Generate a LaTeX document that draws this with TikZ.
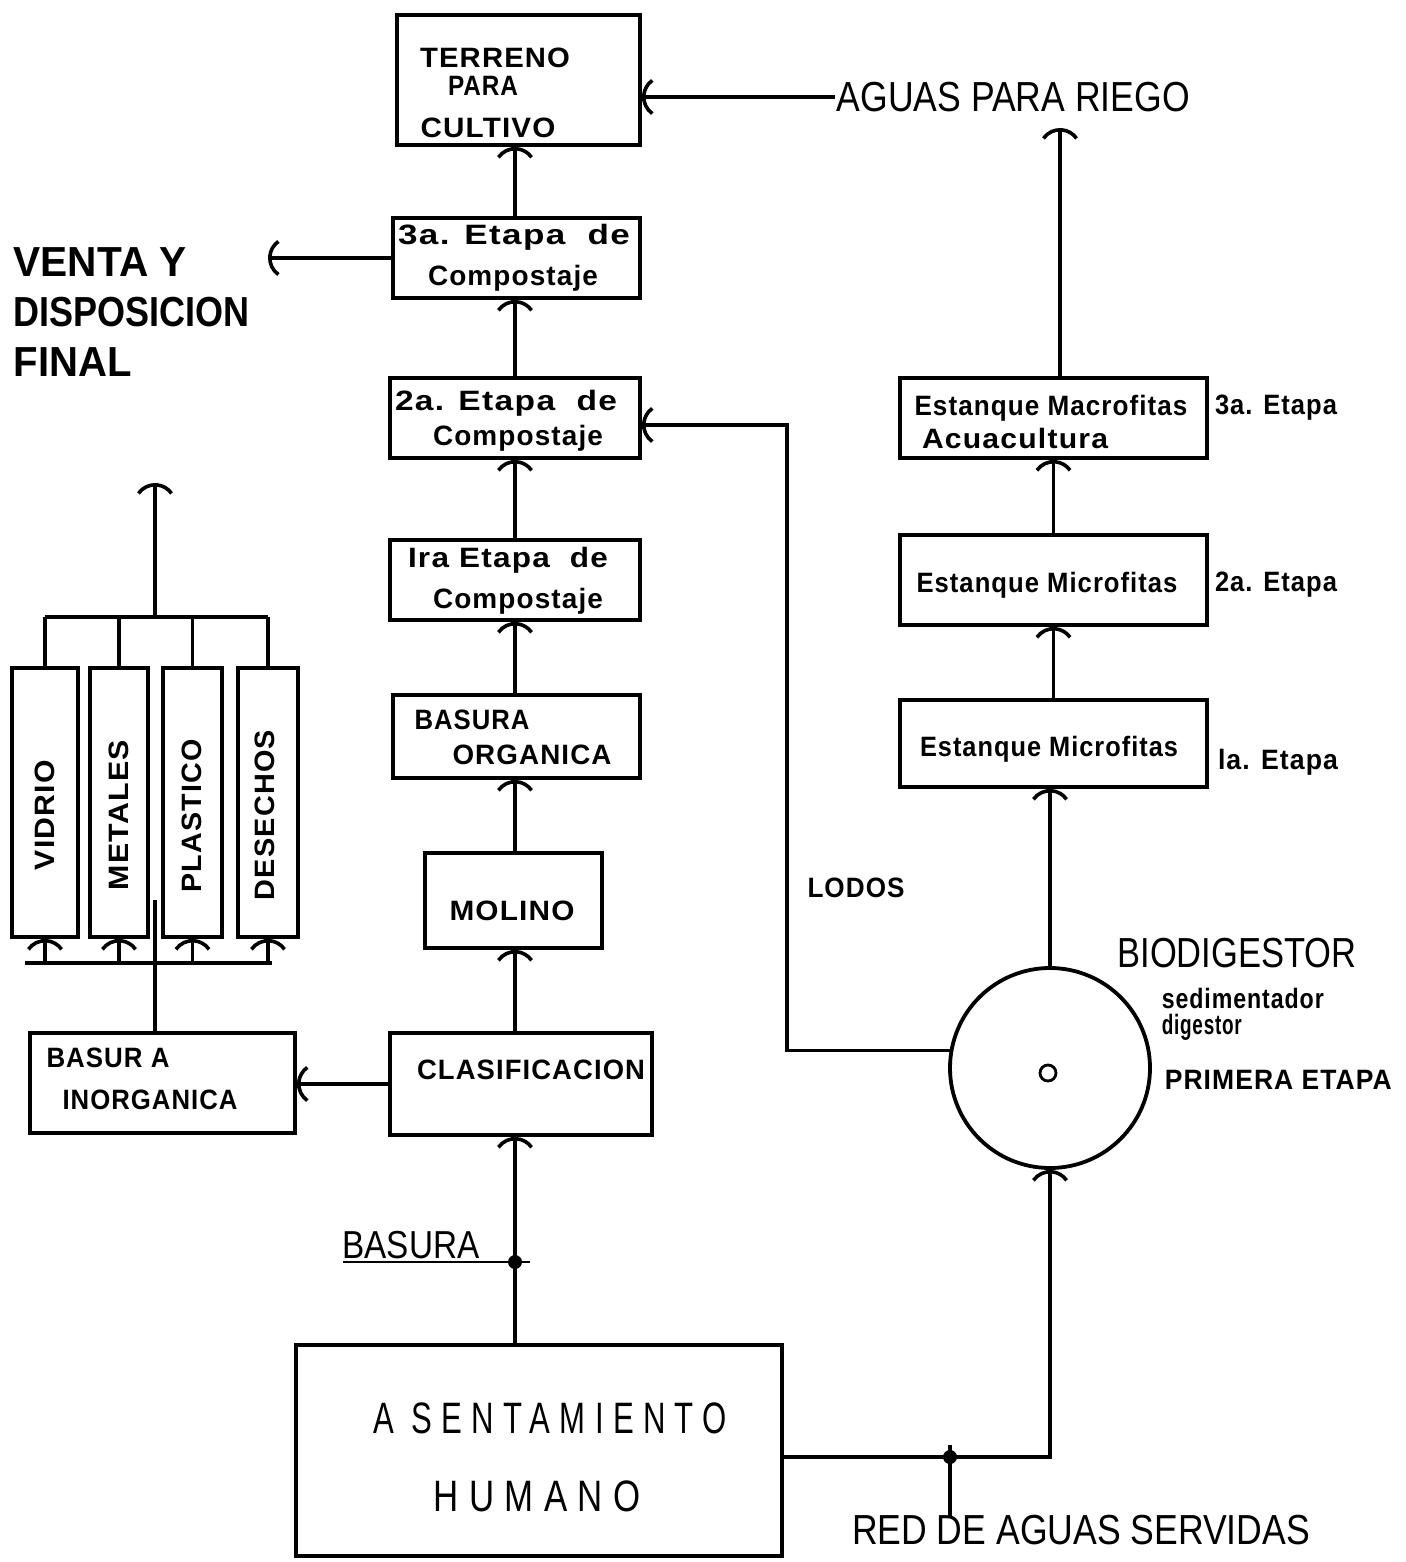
\documentclass[tikz,border=0pt]{standalone}
\usepackage{graphicx}
\usepackage{fontspec}
\setmainfont{Liberation Sans}
\newfontfamily\fB[LetterSpace=4]{Liberation Sans}
\newfontfamily\fS[LetterSpace=30]{Liberation Sans}
\usetikzlibrary{arrows.meta}
\newsavebox\tbox
\newcommand\fitw[2]{\sbox\tbox{#2}\pgfmathsetmacro\fsc{#1*0.5/\the\wd\tbox}\scalebox{\fsc}[1]{\usebox\tbox}}
\newcommand\mkbox[5]{\node[box, minimum width={(#4-#2)*0.5pt}, minimum height={(#5-#3)*0.5pt}] (#1) at ({(#2+#4)/2},{(#3+#5)/2}) {};}
\begin{document}
\begin{tikzpicture}[x=0.5pt,y=-0.5pt, line width=1.8pt,
  box/.style={draw, rectangle, inner sep=0pt, line width=1.9pt},
  arr/.style={-{Arc Barb[length=11pt,width=22pt,arc=110]}},
  tB/.style={font=\fB\bfseries\fontsize{14}{16}\selectfont, inner sep=0pt},
  tL/.style={font=\fontsize{21}{24}\selectfont, inner sep=0pt},
  tLB/.style={font=\bfseries\fontsize{21}{24}\selectfont, inner sep=0pt},
  tS/.style={font=\fS\fontsize{22}{24}\selectfont, inner sep=0pt},
]
\useasboundingbox[fill=white] (0,0) rectangle (1405,1562);
% boxes
\mkbox{terreno}{397}{15}{640}{145}
\mkbox{et3}{393}{218}{640}{298}
\mkbox{et2}{390}{378}{640}{458}
\mkbox{et1}{390}{540}{640}{620}
\mkbox{borg}{393}{695}{640}{778}
\mkbox{molino}{425}{853}{602}{948}
\mkbox{clasif}{390}{1033}{652}{1135}
\mkbox{asent}{296}{1345}{782}{1556}
\mkbox{binorg}{30}{1033}{295}{1133}
\mkbox{vidrio}{12}{668}{78}{937}
\mkbox{metales}{90}{668}{148}{937}
\mkbox{plastico}{163}{668}{222}{937}
\mkbox{desechos}{238}{668}{298}{937}
\mkbox{macro}{900}{378}{1207}{458}
\mkbox{micro2}{900}{535}{1207}{625}
\mkbox{micro1}{900}{700}{1207}{787}
\node[draw, circle, minimum size=100pt, inner sep=0pt, line width=1.9pt] (bio) at (1050,1068) {};
\node[draw, circle, minimum size=8pt, inner sep=0pt, line width=1.4pt] (bioc) at (1048,1073) {};

% texts in boxes
\node[tB] (tt1) at (495,58) {\fitw{150}{TERRENO}};
\node[tB] (tt2) at (483,86) {\fitw{70}{PARA}};
\node[tB] (tt3) at (488,128) {\fitw{135}{CULTIVO}};
\node[tB] (e3a) at (514,237) {\fitw{232}{3a. Etapa\ \ de}};
\node[tB] (e3b) at (513,278) {\fitw{170}{Compostaje}};
\node[tB] (e2a) at (506,403) {\fitw{222}{2a. Etapa\ \ de}};
\node[tB] (e2b) at (518,438) {\fitw{170}{Compostaje}};
\node[tB] (e1a) at (508,560) {\fitw{200}{Ira Etapa\ \ de}};
\node[tB] (e1b) at (518,601) {\fitw{170}{Compostaje}};
\node[tB] (bo1) at (472,720) {\fitw{115}{BASURA}};
\node[tB] (bo2) at (532,755) {\fitw{159}{ORGANICA}};
\node[tB] (mo) at (512,911) {\fitw{125}{MOLINO}};
\node[tB] (cl) at (531,1070) {\fitw{228}{CLASIFICACION}};
\node[tB] (bi1) at (108,1058) {\fitw{123}{BASUR A}};
\node[tB] (bi2) at (150,1100) {\fitw{175}{INORGANICA}};
\node[tB, rotate=90] (vt) at (45,815) {\fitw{110}{VIDRIO}};
\node[tB, rotate=90] (mt) at (119,815) {\fitw{150}{METALES}};
\node[tB, rotate=90] (pt) at (192,816) {\fitw{153}{PLASTICO}};
\node[tB, rotate=90] (dt) at (265,815) {\fitw{170}{DESECHOS}};
\node[tS] (as1) at (550,1418) {\fitw{354}{A SENTAMIENTO}};
\node[tS] (as2) at (537,1496) {\fitw{207}{HUMANO}};
\node[tB] (ma1) at (1051,408) {\fitw{273}{Estanque Macrofitas}};
\node[tB] (ma2) at (1015,438) {\fitw{186}{Acuacultura}};
\node[tB] (mi2) at (1047,585) {\fitw{261}{Estanque Microfitas}};
\node[tB] (mi1) at (1049,749) {\fitw{258}{Estanque Microfitas}};

% side labels
\node[tB] (s3) at (1276,408) {\fitw{122}{3a. Etapa}};
\node[tB] (s2) at (1276,585) {\fitw{122}{2a. Etapa}};
\node[tB] (s1) at (1278,762) {\fitw{120}{la. Etapa}};
\node[tB] (lodos) at (856,888) {\fitw{97}{LODOS}};
\node[tL] (biod) at (1237,953) {\fitw{239}{BIODIGESTOR}};
\node[tB, anchor=west] (sed) at (1160,998) {\fitw{162}{sedimentador}};
\node[tB, anchor=west] (dig) at (1160,1027) {\fitw{80}{digestor}};
\node[tB, anchor=west] (prim) at (1163,1080) {\fitw{227}{PRIMERA ETAPA}};
\node[tLB, anchor=west] (v1) at (12,262) {\fitw{173}{VENTA Y}};
\node[tLB, anchor=west] (v2) at (12,312) {\fitw{236}{DISPOSICION}};
\node[tLB, anchor=west] (v3) at (12,362) {\fitw{118}{FINAL}};
\node[tL, anchor=west] (aguas) at (835,97) {\fitw{353}{AGUAS PARA RIEGO}};
\node[tL, font=\fontsize{19.5}{22}\selectfont] (basura) at (411,1245) {\fitw{137}{BASURA}};
\node[tL] (red) at (1081,1530) {\fitw{458}{RED DE AGUAS SERVIDAS}};

% central column
\coordinate (cx) at (515,0);
\draw[arr] (asent.north -| cx) -- (clasif.south -| cx);
\draw[arr] (clasif.north -| cx) -- (molino.south -| cx);
\draw[arr] (molino.north -| cx) -- (borg.south -| cx);
\draw[arr] (borg.north -| cx) -- (et1.south -| cx);
\draw[arr] (et1.north -| cx) -- (et2.south -| cx);
\draw[arr] (et2.north -| cx) -- (et3.south -| cx);
\draw[arr] (et3.north -| cx) -- (terreno.south -| cx);
\coordinate (venta) at (268,258);
\draw[arr] (et3.west) -- (venta);
\draw[arr] (aguas.west) -- (aguas.west -| terreno.east);

% basura junction
\coordinate (bj) at (515,1262);
\coordinate (bl) at (343,1262);
\coordinate (br) at (530,1262);
\draw[line width=1.4pt] (bl) -- (br);
\fill (bj) circle (3.5pt);

% right column
\coordinate (riego) at (1060,128);
\draw[arr] (macro.north -| riego) -- (riego);
\draw[arr] (micro2.north) -- (micro2.north |- macro.south);
\draw[arr] (micro1.north) -- (micro1.north |- micro2.south);
\draw[arr] (bio.north) -- (bio.north |- micro1.south);

% lodos
\coordinate (lod) at (787,425);
\draw[arr] (bio.170) -| (lod) -- (lod -| et2.east);

% sewer
\coordinate (sj) at (950,1457);
\coordinate (sjt) at (950,1445);
\coordinate (sjb) at (950,1518);
\draw[arr] (asent.east |- sj) -| (bio.south);
\draw (sjt) -- (sjb);
\fill (sj) circle (3.5pt);

% inorganic
\draw[arr] (clasif.west) -- (clasif.west -| binorg.east);
\coordinate (dj) at (155,963);
\coordinate (djt) at (155,900);
\coordinate (dl) at (25,963);
\coordinate (dr) at (272,963);
\draw (binorg.north -| dj) -- (djt);
\draw (dl) -- (dr);
\foreach \b in {vidrio,metales,plastico,desechos}
  \draw[arr] (dl -| \b.south) -- (\b.south);
\coordinate (ul) at (45,617);
\coordinate (ur) at (268,617);
\coordinate (um) at (155,617);
\coordinate (up) at (155,483);
\draw (ul) -- (ur);
\draw[arr] (um) -- (up);
\foreach \b in {vidrio,metales,plastico,desechos}
  \draw (\b.north) -- (\b.north |- ul);
\end{tikzpicture}
\end{document}
